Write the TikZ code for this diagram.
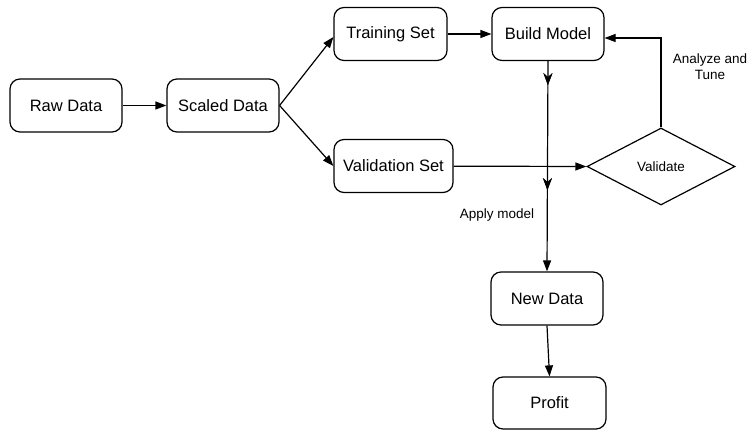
\documentclass[tikz,border=0pt]{standalone}
\usepackage{fontspec}
\setmainfont{Liberation Sans}
\usetikzlibrary{arrows.meta,shapes.geometric,decorations.markings}
\begin{document}
\begin{tikzpicture}[x=1pt,y=-1pt,
  stepbox/.style={draw, line width=1.2pt, rounded corners=10pt, inner sep=0pt,
    minimum height=53pt, font=\fontsize{16.5}{19}\selectfont},
  decision/.style={draw, diamond, line width=1.2pt, inner sep=0pt, aspect=1.92,
    minimum width=148pt, minimum height=77pt, font=\fontsize{13.5}{16}\selectfont},
  lbl/.style={font=\fontsize{13.5}{16}\selectfont, align=center, inner sep=0pt},
  flow/.style={line width=1.2pt, -{Triangle[length=11pt,width=8pt]}},
  midtip/.style={postaction={decorate}, decoration={markings,
    mark=at position #1 with {\arrow{Stealth[length=12pt,width=9pt,inset=4pt]}}}}
]
\useasboundingbox (0,0) rectangle (747,430);

% process boxes
\node[stepbox, minimum width=112pt] (raw)    at (66,105.5)  {Raw Data};
\node[stepbox, minimum width=112pt] (scaled) at (223,105.5) {Scaled Data};
\node[stepbox, minimum width=113pt] (train)  at (390.5,34)  {Training Set};
\node[stepbox, minimum width=112pt] (build)  at (548,34)    {Build Model};
\node[stepbox, minimum width=119pt] (valset) at (393.5,166) {Validation Set};
\node[decision] (validate) at (661,166.5) {Validate};
\node[stepbox, minimum width=112pt] (newdata) at (547,298.5) {New Data};
\node[stepbox, minimum width=113pt, minimum height=52pt] (profit) at (549.5,403) {Profit};

% connector end points
\coordinate (trainin) at ([yshift=-3pt]train.west);
\coordinate (buildin) at ([yshift=-4pt]build.east);
\coordinate (bend)    at (validate.north |- buildin);

% labels
\node[lbl] (applylbl) at (497,215) {Apply model};
\node[lbl] (tunelbl)  at (710,67)  {Analyze and\\Tune};

% connectors
\draw[flow] (raw) -- (scaled);
\draw[flow] (scaled.east) -- (trainin);
\draw[flow] (scaled.east) -- (valset.west);
\draw[flow] (train) -- (build);
\draw[flow] (valset) -- (validate.west);
\draw[flow, midtip=24pt, midtip=129pt] (build.south) -- (newdata.north);
\draw[flow] (validate.north) -- (bend) -- (buildin);
\draw[flow] (newdata.south) -- (profit.north);
\end{tikzpicture}
\end{document}
